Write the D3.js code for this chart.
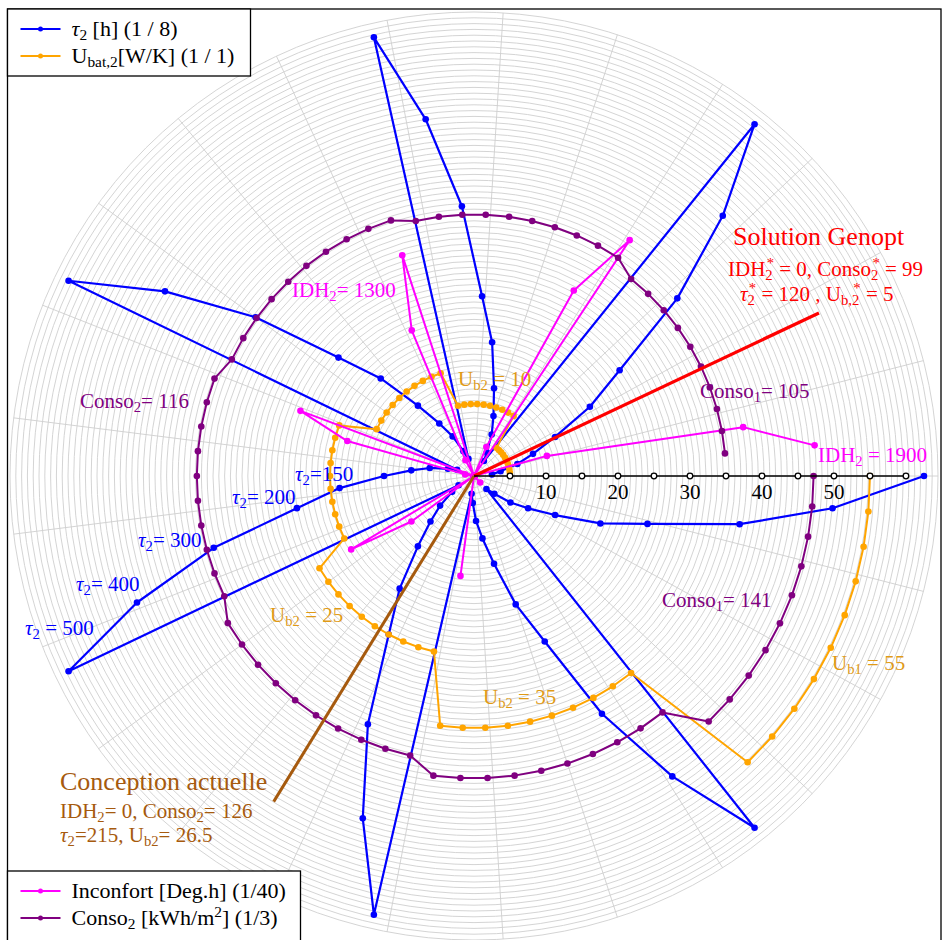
<!DOCTYPE html>
<html>
<head>
<meta charset="utf-8">
<script src="https://cdn.jsdelivr.net/npm/d3@7"></script>
<style>
  body { margin: 0; background: #fff; }
  svg { display: block; }
  text { font-family: "Liberation Serif", "Times New Roman", serif; white-space: pre; }
</style>
</head>
<body>
<svg id="chart" width="942" height="940"></svg>
<script>
// ---- Data: 70 simulated cases, 7 groups of 10 (one group per U_b2 level) ----
const caseIndex = d3.range(1, 71);

// tau2 [h]
const tau2 = [
  20, 30, 50, 70, 100, 150, 200, 300, 400, 500,
  20, 30, 50, 70, 100, 150, 200, 300, 400, 500,
  20, 30, 50, 70, 100, 150, 200, 300, 400, 500,
  20, 30, 50, 70, 100, 150, 200, 300, 400, 500,
  20, 30, 50, 70, 100, 150, 200, 300, 400, 500,
  20, 30, 50, 70, 100, 150, 200, 300, 400, 500,
  20, 30, 50, 70, 100, 150, 200, 300, 400, 500
];
// U_bat,2 [W/K]
const ubat2 = [
  5, 5, 5, 5, 5, 5, 5, 5, 5, 5,
  10, 10, 10, 10, 10, 10, 10, 10, 10, 10,
  15, 15, 15, 15, 15, 15, 15, 15, 15, 15,
  20, 20, 20, 20, 20, 20, 20, 20, 20, 20,
  25, 25, 25, 25, 25, 25, 25, 25, 25, 25,
  35, 35, 35, 35, 35, 35, 35, 35, 35, 35,
  55, 55, 55, 55, 55, 55, 55, 55, 55, 55
];
// Inconfort [Deg.h]
const inconfort = [
  1900, 1520, 420, 0, 0, 0, 0, 0, 0, 0,
  1570, 1170, 175, 0, 0, 0, 0, 0, 0, 0,
  1290, 880, 100, 0, 0, 0, 0, 0, 0, 0,
  1030, 730, 50, 0, 0, 0, 0, 0, 0, 0,
  795, 430, 0, 0, 0, 0, 0, 0, 0, 0,
  560, 0, 0, 0, 0, 0, 0, 0, 0, 0,
  50, 0, 0, 0, 0, 0, 0, 0, 0, 0
];
// Conso2 [kWh/m2]
const conso2 = [
  105, 105, 105, 105, 105, 105, 105, 105, 105, 105,
  109, 109, 109, 109, 109, 109, 109, 109, 109, 109,
  112, 112, 112, 112, 112, 112, 112, 112, 112, 112,
  115.5, 115.5, 115.5, 115.5, 115.5, 115.5, 115.5, 115.5, 115.5, 115.5,
  119.5, 119.5, 119.5, 119.5, 119.5, 119.5, 119.5, 119.5, 119.5, 119.5,
  126, 126, 126, 126, 126, 126, 126, 126, 126, 126,
  141.5, 141.5, 141.5, 141.5, 141.5, 141.5, 141.5, 141.5, 141.5, 141.5
];

// plotting divisors shown in the legend
const divTau2 = 8, divUbat2 = 1, divInconfort = 40, divConso2 = 3;

// graduated reference axis
const axisDots = [5, 10, 15, 20, 25, 30, 35, 40, 45, 50, 55, 60];
const axisLabels = [10, 20, 30, 40, 50];

// highlighted designs: direction (deg) and length (radial units)
const genoptRay = { angle: 25.3, length: 53 };
const actuelleRay = { angle: 238.4, length: 53.1 };

// ---- Geometry ----
const cx = 474, cy = 476;
const rMaxUnits = 64.45;
const r = d3.scaleLinear().domain([0, rMaxUnits]).range([0, 464]);
const theta = d3.scaleLinear().domain([0, 70]).range([0, 2 * Math.PI]);
const toRad = d => d * Math.PI / 180;
const px = (a, v) => cx + r(v) * Math.cos(a);
const py = (a, v) => cy - r(v) * Math.sin(a);
// chart-unit cartesian scales for annotations
const ux = d3.scaleLinear().domain([0, 1]).range([cx, cx + r(1)]);
const uy = d3.scaleLinear().domain([0, 1]).range([cy, cy - r(1)]);

const svg = d3.select('#chart');

// ---- Grid ----
const grid = svg.append('g').attr('fill', 'none').attr('stroke', '#cfcfcf').attr('stroke-width', 0.9);
const nRings = 80;
d3.range(1, nRings + 1).forEach(k => {
  grid.append('circle').attr('cx', cx).attr('cy', cy).attr('r', r(rMaxUnits) * k / nRings);
});
d3.range(0, 25).forEach(k => {
  const a = toRad(k * 14.4);
  grid.append('line').attr('x1', cx).attr('y1', cy)
    .attr('x2', px(a, rMaxUnits)).attr('y2', py(a, rMaxUnits));
});

// ---- Series ----
function drawSeries(values, div, color, width) {
  const pts = caseIndex.map((c, i) => ({ a: theta(c), v: values[i] / div }));
  const line = d3.line().x(d => px(d.a, d.v)).y(d => py(d.a, d.v));
  const g = svg.append('g');
  g.append('path').attr('d', line(pts)).attr('fill', 'none')
    .attr('stroke', color).attr('stroke-width', width).attr('stroke-linejoin', 'round');
  g.selectAll('circle').data(pts).join('circle')
    .attr('cx', d => px(d.a, d.v)).attr('cy', d => py(d.a, d.v))
    .attr('r', 3.3).attr('fill', color);
}
drawSeries(tau2, divTau2, '#0000ff', 2.2);
drawSeries(ubat2, divUbat2, '#ffa500', 2);
drawSeries(inconfort, divInconfort, '#ff00ff', 2);
drawSeries(conso2, divConso2, '#800080', 2);

// ---- Highlighted designs ----
function drawRay(ray, color, width) {
  const a = toRad(ray.angle);
  svg.append('line').attr('x1', cx).attr('y1', cy)
    .attr('x2', px(a, ray.length)).attr('y2', py(a, ray.length))
    .attr('stroke', color).attr('stroke-width', width);
}
drawRay(genoptRay, '#ff0000', 3.2);
drawRay(actuelleRay, '#a65a0e', 3);

// ---- Graduated axis ----
const ax = svg.append('g');
ax.append('line').attr('x1', cx).attr('y1', cy).attr('x2', px(0, 60)).attr('y2', cy)
  .attr('stroke', '#000').attr('stroke-width', 1.4);
ax.selectAll('circle').data(axisDots).join('circle')
  .attr('cx', d => px(0, d)).attr('cy', cy).attr('r', 2.8)
  .attr('fill', '#fff').attr('stroke', '#000').attr('stroke-width', 1.3);
ax.selectAll('text').data(axisLabels).join('text')
  .attr('x', d => px(0, d)).attr('y', cy + 23).attr('text-anchor', 'middle')
  .attr('font-size', 21).attr('fill', '#000').text(d => d);

// ---- Rich text helper (sub/superscripts, italics) ----
function rich(g, x, y, size, color, parts) {
  const t = g.append('text').attr('x', x).attr('y', y).attr('font-size', size).attr('fill', color);
  let shift = 0;
  parts.forEach(p => {
    if (typeof p === 'string') p = { t: p };
    let target = 0, fs = size;
    if (p.s === 'sub') { target = size * 0.2; fs = size * 0.7; }
    else if (p.s === 'sup') { target = -size * 0.38; fs = size * 0.7; }
    const sp = t.append('tspan').attr('dy', target - shift).attr('font-size', fs).text(p.t);
    if (p.it) sp.attr('font-style', 'italic');
    if (p.dx) sp.attr('dx', p.dx);
    shift = target;
  });
  return t;
}

const ann = svg.append('g');
const tau = { t: 'τ', it: true };
const sub = s => ({ t: s, s: 'sub' });
const sup = (s, dx) => ({ t: s, s: 'sup', dx: dx || 0 });

// Genopt solution
rich(ann, ux(35.97), uy(32.08), 26, '#ff0000', ['Solution Genopt']);
rich(ann, ux(35.28), uy(27.78), 21, '#ff0000',
  ['IDH', sub('2'), sup('*', -6), ' = 0, Conso', sub('2'), sup('*', -6), ' = 99']);
rich(ann, ux(36.94), uy(24.31), 21, '#ff0000',
  [tau, sub('2'), sup('*', -6), ' = 120 , U', sub('b,2'), sup('*', -6), ' = 5']);

// current design
rich(ann, ux(-57.5), uy(-43.61), 26, '#a65a0e', ['Conception actuelle']);
rich(ann, ux(-57.5), uy(-47.5), 21, '#a65a0e', ['IDH', sub('2'), '= 0, Conso', sub('2'), '= 126']);
rich(ann, ux(-57.5), uy(-50.83), 21, '#a65a0e', [tau, sub('2'), '=215, U', sub('b2'), '= 26.5']);

// series annotations
const purple = '#800080', orangeTxt = '#e09a16', magenta = '#ff00ff', blue = '#0000ff';
rich(ann, ux(31.39), uy(10.83), 21, purple, ['Conso', sub('1'), '= 105']);
rich(ann, ux(26.11), uy(-18.19), 21, purple, ['Conso', sub('1'), '= 141']);
rich(ann, ux(-54.72), uy(9.44), 21, purple, ['Conso', sub('2'), '= 116']);
rich(ann, ux(47.78), uy(1.94), 21, magenta, ['IDH', sub('2'), ' = 1900']);
rich(ann, ux(-25.28), uy(24.86), 21, magenta, ['IDH', sub('2'), '= 1300']);
rich(ann, ux(-2.22), uy(12.5), 21, orangeTxt, ['U', sub('b2'), ' = 10']);
rich(ann, ux(-28.33), uy(-20.28), 21, orangeTxt, ['U', sub('b2'), ' = 25']);
rich(ann, ux(1.25), uy(-31.67), 21, orangeTxt, ['U', sub('b2'), ' = 35']);
rich(ann, ux(49.72), uy(-26.94), 21, orangeTxt, ['U', sub('b1'), ' = 55']);
rich(ann, ux(-24.86), uy(-0.7), 21, blue, [tau, sub('2'), '=150']);
rich(ann, ux(-33.61), uy(-3.9), 21, blue, [tau, sub('2'), '= 200']);
rich(ann, ux(-46.67), uy(-9.86), 21, blue, [tau, sub('2'), '= 300']);
rich(ann, ux(-55.28), uy(-16.0), 21, blue, [tau, sub('2'), '= 400']);
rich(ann, ux(-62.36), uy(-22.1), 21, blue, [tau, sub('2'), ' = 500']);

// ---- Frame ----
svg.append('rect').attr('x', 7.5).attr('y', 9).attr('width', 933.5).attr('height', 940)
  .attr('fill', 'none').attr('stroke', '#000').attr('stroke-width', 1.3);

// ---- Legends ----
function legend(x, y, w, h, entries) {
  const g = svg.append('g');
  g.append('rect').attr('x', x).attr('y', y).attr('width', w).attr('height', h)
    .attr('fill', '#fff').attr('stroke', '#000').attr('stroke-width', 1.3);
  entries.forEach((e, i) => {
    const yy = y + 20 + i * 27;
    g.append('line').attr('x1', x + 13).attr('x2', x + 53).attr('y1', yy).attr('y2', yy)
      .attr('stroke', e.color).attr('stroke-width', 2);
    g.append('circle').attr('cx', x + 33).attr('cy', yy).attr('r', 2.5).attr('fill', e.color);
    rich(g, x + 64, yy + 7, 22, '#000', e.parts);
  });
}
legend(7.5, 9, 243, 67, [
  { color: '#0000ff', parts: [tau, sub('2'), ' [h] (1 / 8)'] },
  { color: '#ffa500', parts: ['U', sub('bat,2'), '[W/K] (1 / 1)'] }
]);
legend(7.5, 871, 293, 80, [
  { color: '#ff00ff', parts: ['Inconfort [Deg.h] (1/40)'] },
  { color: '#800080', parts: ['Conso', sub('2'), ' [kWh/m', sup('2'), '] (1/3)'] }
]);
</script>
</body>
</html>
